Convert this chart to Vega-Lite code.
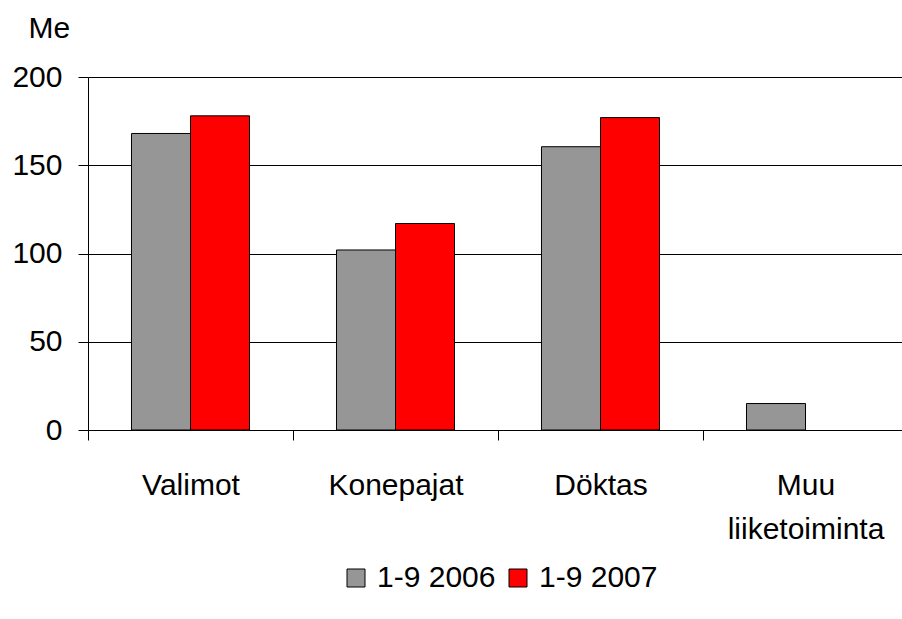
{
  "$schema": "https://vega.github.io/schema/vega-lite/v6.json",
  "width": 814,
  "height": 353,
  "autosize": {"type": "none"},
  "padding": {"left": 88, "top": 77, "right": 0, "bottom": 189},
  "background": "white",
  "config": {
    "view": {"stroke": null},
    "font": "Liberation Sans",
    "axis": {
      "labelColor": "black",
      "titleColor": "black",
      "domainColor": "black",
      "tickColor": "black",
      "labelFont": "Liberation Sans",
      "titleFont": "Liberation Sans"
    }
  },
  "data": {
    "values": [
      {"segment": "Valimot", "period": "1-9 2006", "value": 168},
      {"segment": "Valimot", "period": "1-9 2007", "value": 178},
      {"segment": "Konepajat", "period": "1-9 2006", "value": 102},
      {"segment": "Konepajat", "period": "1-9 2007", "value": 117},
      {"segment": "Döktas", "period": "1-9 2006", "value": 160.5},
      {"segment": "Döktas", "period": "1-9 2007", "value": 177},
      {"segment": "Muu liiketoiminta", "period": "1-9 2006", "value": 15}
    ]
  },
  "mark": {"type": "bar", "stroke": "black", "strokeWidth": 1},
  "encoding": {
    "x": {
      "field": "segment",
      "type": "nominal",
      "sort": ["Valimot", "Konepajat", "Döktas", "Muu liiketoiminta"],
      "scale": {"range": [0, 820], "paddingInner": 0, "paddingOuter": 0},
      "axis": {
        "title": null,
        "labelAngle": 0,
        "labelFontSize": 30,
        "labelFontWeight": "normal",
        "labelPadding": 30,
        "tickSize": 10,
        "tickBand": "extent",
        "domainWidth": 1,
        "grid": false,
        "labelLineHeight": 44,
        "labelExpr": "datum.label == 'Muu liiketoiminta' ? ['Muu', 'liiketoiminta'] : datum.label"
      }
    },
    "xOffset": {
      "field": "period",
      "type": "nominal",
      "sort": ["1-9 2006", "1-9 2007"],
      "scale": {"paddingInner": 0, "paddingOuter": 0.737}
    },
    "y": {
      "field": "value",
      "type": "quantitative",
      "scale": {"domain": [0, 200]},
      "axis": {
        "values": [0, 50, 100, 150, 200],
        "title": "Me",
        "titleAngle": 0,
        "titleFontSize": 30,
        "titleFontWeight": "normal",
        "titleAlign": "left",
        "titleBaseline": "middle",
        "titleX": -60,
        "titleY": -49,
        "labelFontSize": 30,
        "labelPadding": 16,
        "tickSize": 10,
        "grid": true,
        "gridColor": "black",
        "gridOpacity": 1,
        "gridWidth": 1
      }
    },
    "color": {
      "field": "period",
      "type": "nominal",
      "sort": ["1-9 2006", "1-9 2007"],
      "scale": {"domain": ["1-9 2006", "1-9 2007"], "range": ["#969696", "#ff0000"]},
      "legend": {
        "title": null,
        "orient": "none",
        "direction": "horizontal",
        "legendX": 253,
        "legendY": 486,
        "symbolType": "square",
        "symbolSize": 324,
        "symbolStrokeColor": "black",
        "symbolStrokeWidth": 1,
        "symbolOpacity": 1,
        "labelFontSize": 30,
        "labelColor": "black",
        "labelOffset": 6,
        "columnPadding": 7
      }
    }
  }
}
